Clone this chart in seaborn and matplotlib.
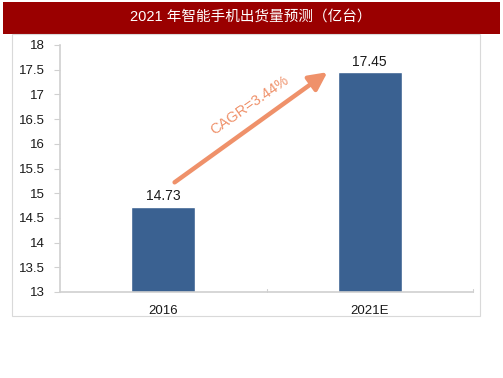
import matplotlib
matplotlib.use("Agg")
import matplotlib.pyplot as plt
import seaborn as sns
import pandas as pd
from matplotlib.patches import Rectangle

categories = ["2016", "2021E"]
values = [14.73, 17.45]
yticks = [13, 13.5, 14, 14.5, 15, 15.5, 16, 16.5, 17, 17.5, 18]
ytick_labels = ["13", "13.5", "14", "14.5", "15", "15.5", "16", "16.5", "17", "17.5", "18"]
title = "2021 年智能手机出货量预测（亿台）"
cagr_text = "CAGR=3.44%"

sns.set_theme(style="white")
plt.rcParams['font.family'] = ['Liberation Sans', 'Noto Sans CJK SC', 'DejaVu Sans']

df = pd.DataFrame({"year": categories, "value": values})

W, H = 503, 378
fig = plt.figure(figsize=(W / 100, H / 100), dpi=100)

# title band
fig.patches.append(Rectangle((3 / W, 1 - 34 / H), 497 / W, 32 / H, transform=fig.transFigure,
                             facecolor="#9A0000", edgecolor="none", zorder=-5))
fig.text(251 / W, 1 - 18 / H, title, color="white", fontsize=10.5, ha="center", va="center",
         family=['Liberation Sans', 'Noto Sans CJK SC', 'DejaVu Sans'])
# chart border box
fig.patches.append(Rectangle((12 / W, 1 - 316 / H), 468 / W, 282 / H, transform=fig.transFigure,
                             facecolor="white", edgecolor="#D9D9D9", linewidth=0.8, zorder=-5))

ax = fig.add_axes([60 / W, 1 - 292 / H, 413 / W, 247 / H])
ax.set_facecolor("none")
sns.barplot(data=df, x="year", y="value", color="#3A6191", width=0.31, ax=ax, saturation=1)
ax.set_ylim(13, 18)
ax.set_xlim(-0.5, 1.5)
ax.set_yticks(yticks)
ax.set_yticklabels(ytick_labels)
ax.set_xlabel("")
ax.set_ylabel("")
for s in ["top", "right"]:
    ax.spines[s].set_visible(False)
for s in ["left", "bottom"]:
    ax.spines[s].set_color("#D0D0D0")
    ax.spines[s].set_linewidth(1.2)
ax.tick_params(axis="y", which="both", left=True, length=4, width=0.8, color="#D0D0D0",
               labelsize=9.5, labelcolor="#1A1A1A", pad=7)
ax.tick_params(axis="x", bottom=False, labelsize=9.5, labelcolor="#1A1A1A", pad=3.5)
# category boundary ticks on x axis
for xb in [0.5, 1.5]:
    ax.plot([xb, xb], [13, 13.07], color="#D0D0D0", lw=0.8, clip_on=False)

for i, v in enumerate(values):
    ax.text(i, v + 0.07, f"{v:.2f}", ha="center", va="bottom", fontsize=10, color="#1A1A1A")

ax.annotate("", xy=(0.795, 17.45), xytext=(0.055, 15.22),
            arrowprops=dict(arrowstyle="-|>,head_length=0.9,head_width=0.45", color="#EF916A",
                            lw=3.2, shrinkA=0, shrinkB=0))
ax.text(0.42, 16.78, cagr_text, rotation=35, ha="center", va="center", fontsize=10.5,
        color="#EF916A", rotation_mode="anchor")

fig.savefig("out.png", dpi=100)
